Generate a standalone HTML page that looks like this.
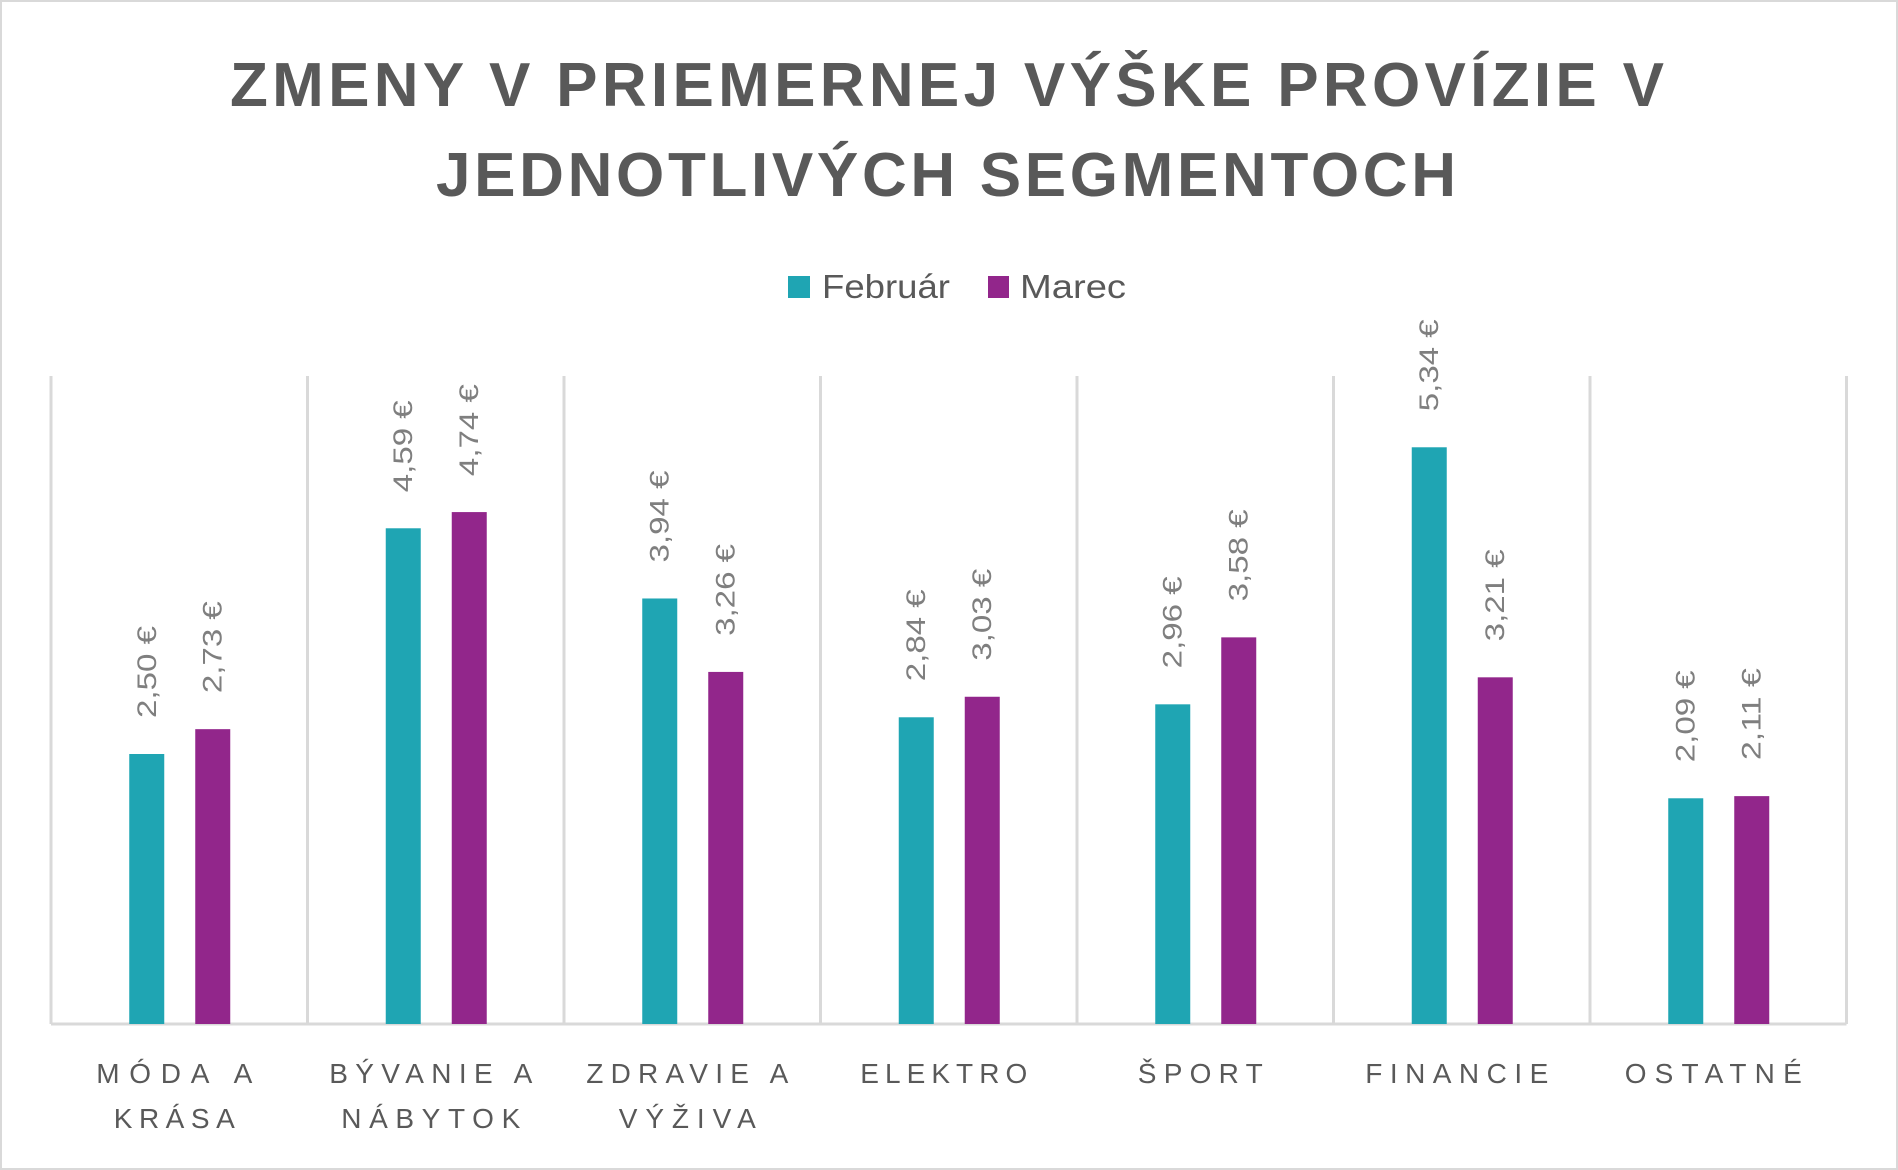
<!DOCTYPE html>
<html><head><meta charset="utf-8"><style>
html,body{margin:0;padding:0;background:#fff}
svg{display:block}
</style></head><body>
<svg width="1898" height="1170" xmlns="http://www.w3.org/2000/svg" font-family="Liberation Sans, sans-serif">
<rect x="1" y="1" width="1896" height="1168" fill="#fff" stroke="#d9d9d9" stroke-width="2"/>
<text x="947" y="106" font-size="62" font-weight="bold" fill="#595959" text-anchor="middle" textLength="1434" lengthAdjust="spacing">ZMENY V PRIEMERNEJ VÝŠKE PROVÍZIE V</text>
<text x="946" y="196" font-size="62" font-weight="bold" fill="#595959" text-anchor="middle" textLength="1020" lengthAdjust="spacing">JEDNOTLIVÝCH SEGMENTOCH</text>
<rect x="788" y="276" width="22" height="22" fill="#1fa5b3"/>
<text x="822" y="298" font-size="33" fill="#595959" textLength="128" lengthAdjust="spacingAndGlyphs">Február</text>
<rect x="988" y="276" width="21" height="22" fill="#92268b"/>
<text x="1020" y="298" font-size="33" fill="#595959" textLength="106" lengthAdjust="spacingAndGlyphs">Marec</text>
<g stroke="#d9d9d9" stroke-width="3" id="grid"></g>
<g id="bars"></g>
<g id="labels" fill="#595959" font-size="28"></g>
</svg>
<script>
const ns="http://www.w3.org/2000/svg";
const L=51,W=256.5,B=1024,U=108;
const feb=[2.50,4.59,3.94,2.84,2.96,5.34,2.09],mar=[2.73,4.74,3.26,3.03,3.58,3.21,2.11];
const cats=[["MÓDA A",156,"KRÁSA",121],["BÝVANIE A",203,"NÁBYTOK",179],["ZDRAVIE A",202,"VÝŽIVA",137],["ELEKTRO",167],["ŠPORT",125],["FINANCIE",183],["OSTATNÉ",177]];
function el(t,a,p,txt){const e=document.createElementNS(ns,t);for(const k in a)e.setAttribute(k,a[k]);if(txt)e.textContent=txt;p.appendChild(e);return e;}
const g=document.getElementById('grid'),b=document.getElementById('bars'),lb=document.getElementById('labels');
for(let i=0;i<=7;i++){const x=L+W*i;el('line',{x1:x,y1:376,x2:x,y2:B},g);}
el('line',{x1:L,y1:B,x2:L+W*7,y2:B},g);
const fmt=v=>v.toFixed(2).replace('.',',')+' €';
for(let i=0;i<7;i++){const c=L+W*(i+0.5);
 [[feb[i],c-50,'#1fa5b3'],[mar[i],c+16,'#92268b']].forEach(([v,x,col])=>{
  const h=v*U;el('rect',{x:x,y:B-h,width:35,height:h,fill:col},b);
  const cx=x+17.5,y0=B-h-36;
  el('text',{x:cx+9,y:y0,'font-size':27,fill:'#7f7f7f',transform:`rotate(-90 ${cx+9} ${y0})`,textLength:92,lengthAdjust:'spacingAndGlyphs'},b,fmt(v));
 });
 const ct=cats[i];
 el('text',{x:c-ct[1]/2-5,y:1083,textLength:ct[1],lengthAdjust:'spacing'},lb,ct[0]);
 if(ct[2])el('text',{x:c-ct[3]/2-5,y:1128,textLength:ct[3],lengthAdjust:'spacing'},lb,ct[2]);
}
</script>
</body></html>
